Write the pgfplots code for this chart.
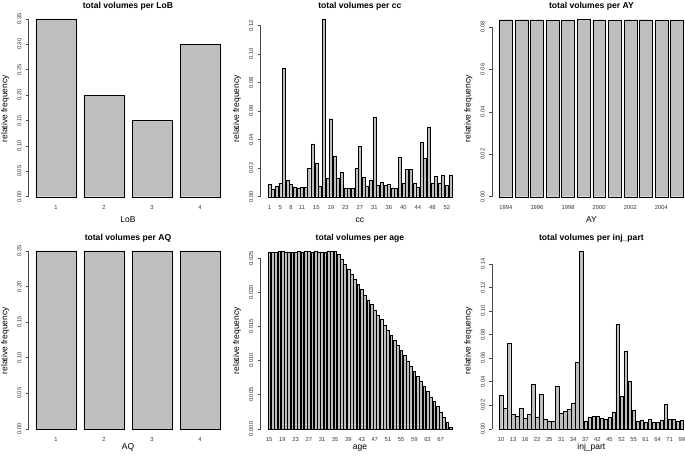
\documentclass[border=0pt]{standalone}
\usepackage{fontspec}
\setmainfont{Liberation Sans}
\usepackage{pgfplots}
\pgfplotsset{compat=1.18}
\definecolor{rgrey}{HTML}{BEBEBE}
\definecolor{rborder}{HTML}{4A4A4A}
\pgfplotsset{
  rbar/.style={
    scale only axis, width=198.8pt, height=194pt, anchor=south west, clip=false,
    axis line style={draw=none},
    tick pos=left,
    xtick style={draw=none},
    ytick style={draw=rborder, line width=0.5pt},
    tick align=outside, major tick length=3pt,
    scaled ticks=false,
    ybar, bar width=0.8333,
    cycle list={{fill=rgrey, draw=rborder, line width=0.55pt}},
    ticklabel style={font=\fontsize{5.8}{6}\selectfont, text=black!80},
    yticklabel style={xshift=-4pt, rotate=90, anchor=south, inner sep=0pt},
    xticklabel style={anchor=center, inner sep=0pt, yshift=1.3pt},
    every axis title shift=0pt,
    title style={font=\bfseries\fontsize{8.6}{10}\selectfont, at={(axis description cs:0.5,1)}, anchor=base, yshift=3pt},
    xlabel style={font=\fontsize{8.5}{10}\selectfont, at={(axis description cs:0.5,0)}, anchor=center, yshift=-14.3pt},
    ylabel style={font=\fontsize{8.5}{10}\selectfont, at={(axis description cs:-0.1182,0.5)}, anchor=center},
    ylabel={relative frequency},
  },
  row2/.style={xlabel style={yshift=4.3pt}},
}
\begin{document}
\begin{tikzpicture}
\useasboundingbox (0,0) rectangle (685pt,458pt);
\clip (0,0) rectangle (685pt,458pt);
% ---------------- LoB
\begin{axis}[rbar, at={(28.6pt,252.3pt)},
  title={total volumes per LoB}, xlabel={LoB},
  xmin=0.43, xmax=4.57, ymin=-0.01764, ymax=0.36414,
  xtick={1,2,3,4}, xticklabels={1,2,3,4},
  ytick={0,0.05,0.1,0.15,0.2,0.25,0.3,0.35},
  yticklabels={0.00,0.05,0.10,0.15,0.20,0.25,0.30,0.35}]
\addplot coordinates {(1,0.35)(2,0.20)(3,0.15)(4,0.30)};
\draw[rborder, line width=0.5pt] (axis cs:0.43,0) -- (axis cs:0.43,0.35);
\end{axis}
% ---------------- cc
\begin{axis}[rbar, at={(260.5pt,252.3pt)},
  title={total volumes per cc}, xlabel={cc},
  xmin=-1.45, xmax=53.45, ymin=-0.006285, ymax=0.12974,
  xtick={1,4,7,10,14,18,22,26,30,34,38,42,46,50},
  xticklabels={1,5,8,11,15,19,23,27,31,36,40,44,48,52},
  ytick={0,0.02,0.04,0.06,0.08,0.10,0.12},
  yticklabels={0.00,0.02,0.04,0.06,0.08,0.10,0.12}]
\addplot coordinates {(1,0.0090)(2,0.0055)(3,0.0075)(4,0.0095)(5,0.0902)(6,0.0117)(7,0.0086)(8,0.0070)(9,0.0063)(10,0.0068)
(11,0.0068)(12,0.0200)(13,0.0370)(14,0.0238)(15,0.0073)(16,0.1247)(17,0.0132)(18,0.0547)(19,0.0281)(20,0.0132)
(21,0.0172)(22,0.0061)(23,0.0061)(24,0.0057)(25,0.0200)(26,0.0355)(27,0.0139)(28,0.0075)(29,0.0117)(30,0.0556)
(31,0.0082)(32,0.0102)(33,0.0078)(34,0.0085)(35,0.0062)(36,0.0057)(37,0.0278)(38,0.0093)(39,0.0190)(40,0.0193)
(41,0.0095)(42,0.0070)(43,0.0380)(44,0.0272)(45,0.0490)(46,0.0098)(47,0.0145)(48,0.0095)(49,0.0152)(50,0.0082)(51,0.0153)};
\draw[rborder, line width=0.5pt] (axis cs:-1.45,0) -- (axis cs:-1.45,0.12);
\end{axis}
% ---------------- AY
\begin{axis}[rbar, at={(492pt,252.3pt)},
  title={total volumes per AY}, xlabel={AY},
  xmin=0.11, xmax=12.89, ymin=-0.004224, ymax=0.087186,
  xtick={1,3,5,7,9,11}, xticklabels={1994,1996,1998,2000,2002,2004},
  ytick={0,0.02,0.04,0.06,0.08},
  yticklabels={0.00,0.02,0.04,0.06,0.08}]
\addplot coordinates {(1,0.0834)(2,0.0834)(3,0.0834)(4,0.0833)(5,0.0833)(6,0.0838)(7,0.0834)(8,0.0833)(9,0.0834)(10,0.0834)(11,0.0833)(12,0.0833)};
\draw[rborder, line width=0.5pt] (axis cs:0.11,0) -- (axis cs:0.11,0.08);
\end{axis}
% ---------------- AQ
\begin{axis}[rbar, row2, at={(28.6pt,20.2pt)},
  title={total volumes per AQ}, xlabel={AQ},
  xmin=0.43, xmax=4.57, ymin=-0.0126, ymax=0.2601,
  xtick={1,2,3,4}, xticklabels={1,2,3,4},
  ytick={0,0.05,0.1,0.15,0.2,0.25},
  yticklabels={0.00,0.05,0.10,0.15,0.20,0.25}]
\addplot coordinates {(1,0.25)(2,0.25)(3,0.25)(4,0.25)};
\draw[rborder, line width=0.5pt] (axis cs:0.43,0) -- (axis cs:0.43,0.25);
\end{axis}
% ---------------- age
\begin{axis}[rbar, row2, at={(260.5pt,20.2pt)},
  title={total volumes per age}, xlabel={age},
  xmin=-1.65, xmax=58.65, ymin=-0.0013124, ymax=0.027092,
  xtick={1,5,9,13,17,21,25,29,33,37,41,45,49,53},
  xticklabels={15,19,23,27,31,35,39,43,47,51,55,59,63,67},
  ytick={0,0.005,0.01,0.015,0.02,0.025},
  yticklabels={0.000,0.005,0.010,0.015,0.020,0.025}]
\addplot coordinates {(1,0.02582)(2,0.02585)(3,0.02592)(4,0.02603)(5,0.02594)(6,0.02583)(7,0.02585)(8,0.02592)(9,0.02592)(10,0.02594)
(11,0.02590)(12,0.02596)(13,0.02597)(14,0.02588)(15,0.02595)(16,0.02592)(17,0.02592)(18,0.02590)(19,0.02604)(20,0.02600)
(21,0.02598)(22,0.02560)(23,0.02490)(24,0.02415)(25,0.02338)(26,0.02265)(27,0.02185)(28,0.02112)(29,0.02050)(30,0.01960)
(31,0.01890)(32,0.01818)(33,0.01742)(34,0.01670)(35,0.01598)(36,0.01522)(37,0.01445)(38,0.01372)(39,0.01300)(40,0.01222)
(41,0.01148)(42,0.01075)(43,0.00995)(44,0.00920)(45,0.00848)(46,0.00770)(47,0.00692)(48,0.00620)(49,0.00548)(50,0.00470)
(51,0.00398)(52,0.00328)(53,0.00250)(54,0.00172)(55,0.00100)(56,0.00030)};
\draw[rborder, line width=0.5pt] (axis cs:-1.65,0) -- (axis cs:-1.65,0.025);
\end{axis}
% ---------------- inj_part
\begin{axis}[rbar, row2, at={(492pt,20.2pt)},
  title={total volumes per inj\_part}, xlabel={inj\_part},
  xmin=-1.25, xmax=48.25, ymin=-0.00761, ymax=0.1571,
  xtick={1,4,7,10,13,16,19,22,25,28,31,34,37,40,43,46},
  xticklabels={10,13,16,22,25,31,34,37,42,45,52,55,61,64,71,99},
  ytick={0,0.02,0.04,0.06,0.08,0.10,0.12,0.14},
  yticklabels={0.00,0.02,0.04,0.06,0.08,0.10,0.12,0.14}]
\addplot coordinates {(1,0.0289)(2,0.0175)(3,0.0724)(4,0.0124)(5,0.0107)(6,0.0175)(7,0.0088)(8,0.0124)(9,0.0379)(10,0.0102)
(11,0.0294)(12,0.0085)(13,0.0065)(14,0.0065)(15,0.0365)(16,0.0133)(17,0.0150)(18,0.0164)(19,0.0215)(20,0.0566)
(21,0.1510)(22,0.0063)(23,0.0099)(24,0.0108)(25,0.0108)(26,0.0090)(27,0.0079)(28,0.0099)(29,0.0144)(30,0.0888)
(31,0.0277)(32,0.0662)(33,0.0405)(34,0.0158)(35,0.0062)(36,0.0074)(37,0.0059)(38,0.0079)(39,0.0059)(40,0.0059)
(41,0.0074)(42,0.0207)(43,0.0079)(44,0.0079)(45,0.0068)(46,0.0071)};
\draw[rborder, line width=0.5pt] (axis cs:-1.25,0) -- (axis cs:-1.25,0.14);
\end{axis}
\end{tikzpicture}
\end{document}
